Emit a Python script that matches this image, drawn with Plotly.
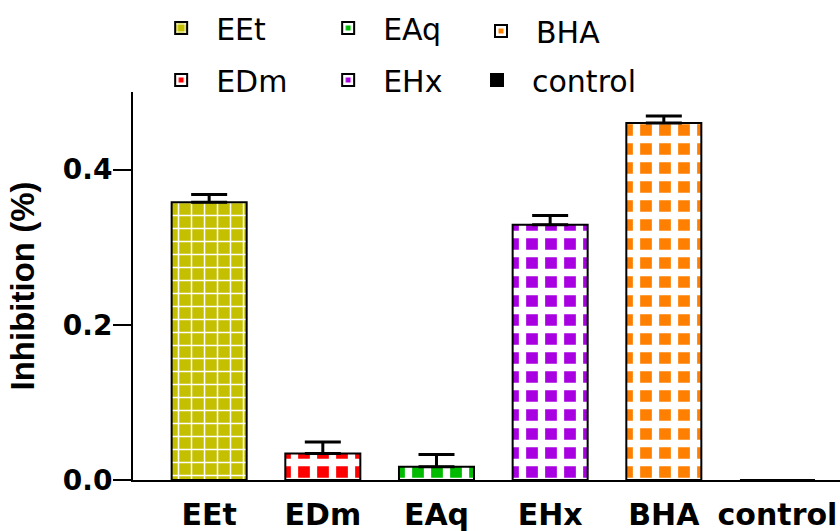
import plotly.graph_objects as go

categories = ["EEt", "EDm", "EAq", "EHx", "BHA", "control"]
values = [0.358, 0.034, 0.017, 0.329, 0.460, 0.0]
errors = [0.010, 0.015, 0.016, 0.012, 0.009, 0.0]
colors = ["#C4C000", "#FF0000", "#00BB00", "#A800E0", "#FF8000", "#000000"]
legend_group = ["legend", "legend2", "legend", "legend2", "legend3", "legend4"]
tick_vals = [0.0, 0.2, 0.4]
tick_text = ["0.0", "0.2", "0.4"]

def pat(col, size, solidity):
    return dict(shape="+", fgcolor="white", bgcolor=col, fgopacity=1,
                size=size, solidity=solidity, fillmode="replace")

patterns = {
    "EEt": pat("#C4C000", 13, 0.22),
    "EDm": pat("#FF0000", 19, 0.62),
    "EAq": pat("#00BB00", 19, 0.62),
    "EHx": pat("#A800E0", 19, 0.62),
    "BHA": pat("#FF8000", 19, 0.62),
    "control": dict(shape=""),
}

fig = go.Figure()
for c, v, e, col, lg in zip(categories, values, errors, colors, legend_group):
    fig.add_trace(go.Bar(
        x=[c], y=[v], name=c, legend=lg,
        marker=dict(color=col, pattern=patterns[c], line=dict(color="black", width=2)),
        width=0.66,
        error_y=dict(type="data", array=[e], arrayminus=[0], symmetric=False,
                     color="black", thickness=3, width=18, visible=(e > 0)),
    ))

legend_common = dict(orientation="h", xref="container", yref="container",
                     font=dict(family="DejaVu Sans", size=30, color="black"),
                     bgcolor="rgba(0,0,0,0)", itemwidth=60,
                     xanchor="left", yanchor="middle")

fig.update_layout(
    width=840, height=531,
    margin=dict(l=133, r=0, t=92, b=51, autoexpand=False),
    paper_bgcolor="white", plot_bgcolor="white",
    barmode="overlay",
    showlegend=True,
    legend=dict(x=0.174, y=1 - 28 / 531, entrywidth=92, **legend_common),
    legend2=dict(x=0.174, y=1 - 80 / 531, entrywidth=92, **legend_common),
    legend3=dict(x=(537 - 71) / 840, y=1 - 31 / 531, **legend_common),
    legend4=dict(x=(533 - 71) / 840, y=1 - 80 / 531, **legend_common),
    xaxis=dict(
        categoryorder="array", categoryarray=categories,
        range=[-0.67, 5.55], automargin=False,
        showline=True, linecolor="black", linewidth=2,
        ticks="", showgrid=False, zeroline=False,
        tickfont=dict(family="DejaVu Sans", size=30, color="black", weight="bold"),
        ticklabelstandoff=7,
    ),
    yaxis=dict(
        range=[0, 0.5], automargin=False,
        tickvals=tick_vals, ticktext=tick_text,
        showline=True, linecolor="black", linewidth=2,
        ticks="outside", ticklen=18, tickwidth=2, tickcolor="black",
        showgrid=False, zeroline=False,
        tickfont=dict(family="DejaVu Sans", size=28, color="black", weight="bold"),
        ticklabelstandoff=-5,
        title=dict(text="Inhibition (%)", standoff=18,
                   font=dict(family="Liberation Sans, Arial", size=33, color="black", weight="bold")),
    ),
)

fig.write_html("out.html", config={"displayModeBar": False},
               post_script="document.body.style.margin='0';")
